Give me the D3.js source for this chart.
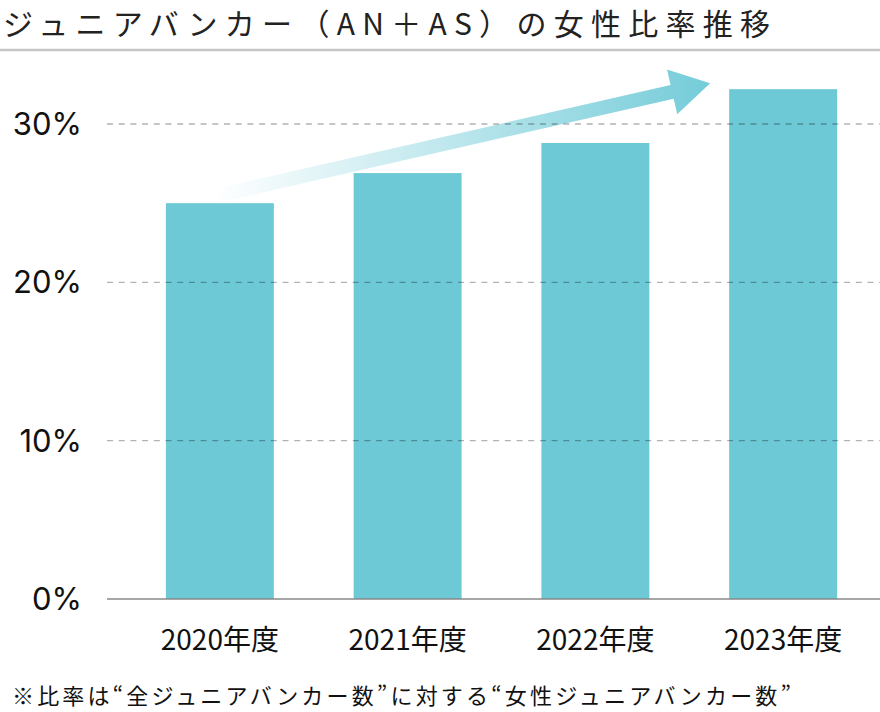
<!DOCTYPE html>
<html lang="ja">
<head>
<meta charset="utf-8">
<script src="https://cdn.jsdelivr.net/npm/d3@7/dist/d3.min.js"></script>
<style>
  html, body { margin: 0; padding: 0; background: #fff; }
  svg { display: block; }
</style>
</head>
<body>
<svg id="chart" width="880" height="712"></svg>
<script>
// ---- data ----
const categories = ["2020年度", "2021年度", "2022年度", "2023年度"];
const femaleRatio = [25.0, 26.9, 28.8, 32.2];
const yTicks = [0, 10, 20, 30];
const yTickLabels = ["0%", "10%", "20%", "30%"];
const titleText = "ジュニアバンカー（AN＋AS）の女性比率推移";
const noteText = "※比率は“全ジュニアバンカー数”に対する“女性ジュニアバンカー数”";

// ---- setup ----
const svg = d3.select("#chart");
const barColor = "#6ec9d7";
const arrowColor = "#74ccd9";

const x = d3.scaleBand()
  .domain(categories)
  .range([126, 877])
  .paddingInner(0.425)
  .paddingOuter(0.2125);

const y = d3.scaleLinear()
  .domain([0, 30])
  .range([599, 124]);

const axisLeft = 107;
const axisRight = 880;

// title
svg.append("text")
  .attr("x", 3)
  .attr("y", 35)
  .attr("font-family", "'Noto Sans CJK JP', sans-serif")
  .attr("font-size", 30)
  .attr("font-weight", 400)
  .attr("fill", "#222")
  .attr("textLength", 767)
  .attr("lengthAdjust", "spacing")
  .text(titleText);

svg.append("line")
  .attr("x1", 0).attr("x2", 880)
  .attr("y1", 50).attr("y2", 50)
  .attr("stroke", "#c6c6c6")
  .attr("stroke-width", 2.5);

// bars
svg.append("g")
  .selectAll("rect")
  .data(categories)
  .join("rect")
  .attr("x", d => x(d))
  .attr("width", x.bandwidth())
  .attr("y", (d, i) => y(femaleRatio[i]))
  .attr("height", (d, i) => y(0) - y(femaleRatio[i]))
  .attr("fill", barColor);

// arrow (trend annotation anchored to first and last bars)
const defs = svg.append("defs");
const x0a = x(categories[0]) + x.bandwidth() / 2 - 5;
const y0a = y(femaleRatio[0]) - 7;
const tipX = x(categories[3]) - 19;
const tipY = y(femaleRatio[3]) - 6;
const grad = defs.append("linearGradient")
  .attr("id", "arrowGrad")
  .attr("gradientUnits", "userSpaceOnUse")
  .attr("x1", x0a).attr("y1", 0)
  .attr("x2", tipX).attr("y2", 0);
grad.append("stop").attr("offset", "0%").attr("stop-color", "#ffffff");
grad.append("stop").attr("offset", "100%").attr("stop-color", arrowColor);

const dx = tipX - x0a, dy = tipY - y0a;
const len = Math.hypot(dx, dy);
const ux = dx / len, uy = dy / len;
const px = -uy, py = ux;
const headLen = 39, headHalf = 23, shaftHalf = 7;
const bx = tipX - ux * headLen, by = tipY - uy * headLen;
const pts = [
  [x0a + px * shaftHalf, y0a + py * shaftHalf],
  [bx + px * shaftHalf, by + py * shaftHalf],
  [bx + px * headHalf, by + py * headHalf],
  [tipX, tipY],
  [bx - px * headHalf, by - py * headHalf],
  [bx - px * shaftHalf, by - py * shaftHalf],
  [x0a - px * shaftHalf, y0a - py * shaftHalf]
];
svg.append("path")
  .attr("d", d3.line()(pts) + "Z")
  .attr("fill", "url(#arrowGrad)");

// gridlines (on top)
svg.append("g")
  .selectAll("line")
  .data(yTicks.filter(d => d > 0))
  .join("line")
  .attr("x1", axisLeft).attr("x2", axisRight)
  .attr("y1", d => y(d)).attr("y2", d => y(d))
  .attr("stroke", "rgba(0,0,0,0.3)")
  .attr("stroke-width", 1.3)
  .attr("stroke-dasharray", "6,5.7");

// baseline
svg.append("line")
  .attr("x1", axisLeft).attr("x2", axisRight)
  .attr("y1", y(0)).attr("y2", y(0))
  .attr("stroke", "#888")
  .attr("stroke-width", 1.6);

// y tick labels
svg.append("g")
  .selectAll("text")
  .data(yTicks)
  .join("text")
  .attr("x", 82)
  .attr("y", d => y(d))
  .attr("dy", "0.36em")
  .attr("text-anchor", "end")
  .attr("font-family", "Inter, 'Noto Sans', sans-serif")
  .attr("font-size", 31)
  .attr("font-weight", 400)
  .attr("fill", "#111")
  .text((d, i) => yTickLabels[i]);

// x labels
svg.append("g")
  .selectAll("text")
  .data(categories)
  .join("text")
  .attr("x", d => x(d) + x.bandwidth() / 2)
  .attr("y", 650)
  .attr("text-anchor", "middle")
  .attr("font-family", "'Noto Sans CJK JP', sans-serif")
  .attr("font-size", 28)
  .attr("fill", "#111")
  .text(d => d);

// footnote
svg.append("text")
  .attr("x", 12)
  .attr("y", 704)
  .attr("font-family", "'Noto Sans CJK JP', sans-serif")
  .attr("font-size", 22)
  .attr("fill", "#111")
  .attr("textLength", 779)
  .attr("lengthAdjust", "spacing")
  .text(noteText);
</script>
</body>
</html>
